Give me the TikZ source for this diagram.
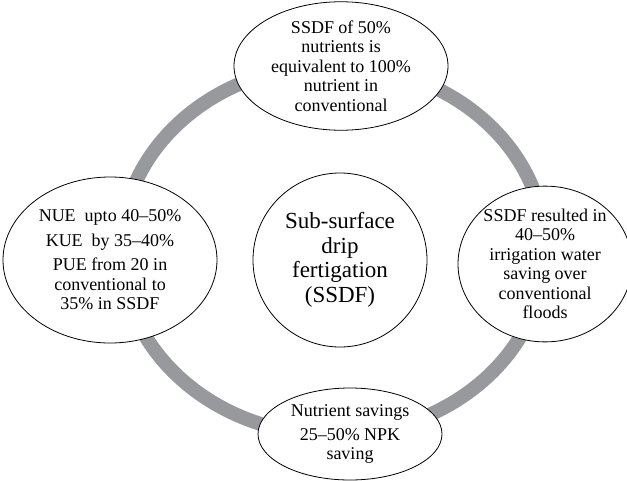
\documentclass[tikz,border=0pt]{standalone}
\usepackage{fontspec}
\setmainfont{Liberation Serif}
\usetikzlibrary{shapes.geometric}
\definecolor{ringgray}{RGB}{152,153,157}

\begin{document}
\begin{tikzpicture}[x=1pt, y=-1pt,
		bubble/.style={draw, ellipse, fill=white, line width=0.8pt, inner sep=0pt, align=center, font=\fontsize{18}{19.5}\selectfont}]
				\useasboundingbox (0,0) rectangle (627,480);
				\draw[ringgray, line width=14pt] (333,250) ellipse [x radius=212pt, y radius=185pt];
				\node[draw, circle, fill=white, line width=0.8pt, minimum size=174pt, inner sep=0pt, align=center, font=\fontsize{23}{24.5}\selectfont] (SSDF)at(340, 260) {Sub-surface\\drip\\fertigation\\(SSDF)};
				\node[bubble, minimum width=214pt, minimum height=126pt] (Top)at(341, 66) {SSDF of 50\%\\nutrients is\\equivalent to 100\%\\nutrient in\\conventional};
				\node[bubble, minimum width=160pt, minimum height=138pt] (Water)at(545, 264) {SSDF resulted in\\40--50\%\\irrigation water\\saving over\\conventional\\floods};
				\node[bubble, minimum width=184pt, minimum height=92pt] (Saving)at(350, 434) {Nutrient savings\\[4pt]25--50\% NPK\\saving};
				\node[bubble, minimum width=214pt, minimum height=166pt] (NUE)at(110, 260) {NUE\ \ upto 40--50\%\\[5pt]KUE\ \ by 35--40\%\\[5pt]PUE from 20 in\\conventional to\\35\% in SSDF};
			\end{tikzpicture}
\end{document}
